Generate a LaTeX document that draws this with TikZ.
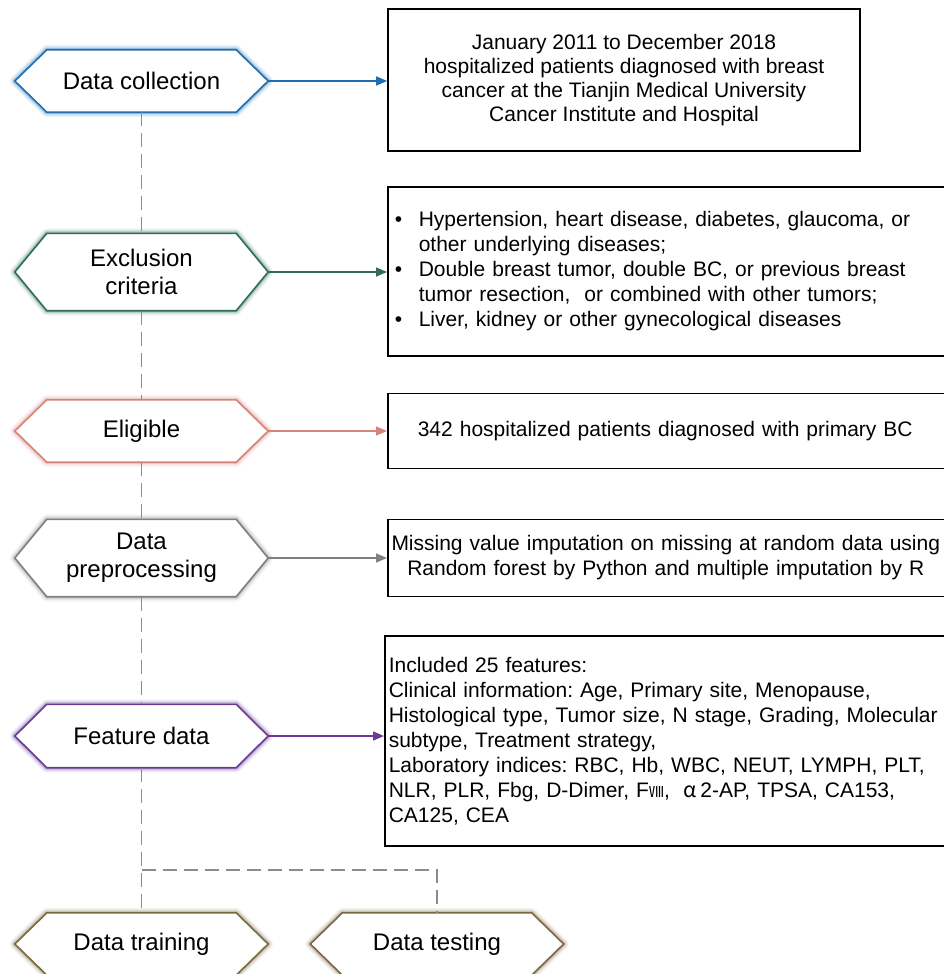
\documentclass[tikz,border=0pt]{standalone}
\usepackage{fontspec}
\setmainfont{Liberation Sans}
\newfontfamily\cjk{Noto Sans CJK SC}
\usetikzlibrary{arrows.meta,backgrounds}
\definecolor{cblue}{RGB}{31,111,176}
\definecolor{cgreen}{RGB}{46,110,88}
\definecolor{crose}{RGB}{212,132,122}
\definecolor{cgray}{RGB}{128,128,128}
\definecolor{cpurple}{RGB}{106,58,150}
\definecolor{colive}{RGB}{122,104,64}
\definecolor{cdash}{RGB}{140,140,140}
\newcommand{\hexa}[2]{%
  \foreach \w/\o in {10/0.08,7/0.14,4/0.25}{%
    \draw[#2, line width=\w pt, opacity=\o, line join=round]
      (#1.west) -- ([xshift=32pt]#1.north west) -- ([xshift=-32pt]#1.north east) -- (#1.east)
      -- ([xshift=-32pt]#1.south east) -- ([xshift=32pt]#1.south west) -- cycle;}
  \draw[#2, line width=1.6pt, fill=white, line join=miter]
      (#1.west) -- ([xshift=32pt]#1.north west) -- ([xshift=-32pt]#1.north east) -- (#1.east)
      -- ([xshift=-32pt]#1.south east) -- ([xshift=32pt]#1.south west) -- cycle;}
\tikzset{
  hexnode/.style={minimum width=253pt, minimum height=#1, inner sep=0pt, align=center,
    font=\fontsize{24}{28}\selectfont},
  box/.style={draw=black, line width=1.6pt, inner ysep=0pt,
    font=\fontsize{21}{25}\selectfont\frenchspacing},
  arr/.style={draw=#1, line width=1.5pt, -{Triangle[length=11pt,width=9pt]}},
  dashline/.style={draw=cdash, line width=1.5pt, dash pattern=on 14pt off 7pt},
}
\begin{document}
\frenchspacing
\begin{tikzpicture}[x=1pt,y=-1pt]
\path[use as bounding box] (0,0) rectangle (944,974);
\clip (0,0) rectangle (944,974);
% hexagon nodes
\node[hexnode=62pt] (dc) at (141.5,81) {Data collection};
\node[hexnode=77pt] (ex) at (141.5,272) {Exclusion\\criteria};
\node[hexnode=62pt] (el) at (141.5,431) {Eligible};
\node[hexnode=77pt] (dp) at (141.5,558) {Data\\preprocessing};
\node[hexnode=63pt] (fd) at (141.5,736) {Feature data};
\node[hexnode=62pt] (dtr) at (141.5,944) {Data training};
\node[hexnode=62pt] (dte) at (437,944) {Data testing};
\begin{scope}[on background layer]
  \hexa{dc}{cblue}
  \hexa{ex}{cgreen}
  \hexa{el}{crose}
  \hexa{dp}{cgray}
  \hexa{fd}{cpurple}
  \hexa{dtr}{colive}
  \hexa{dte}{colive}
\end{scope}
% boxes
\node[box, minimum width=472pt, minimum height=142pt, align=center,
  font=\fontsize{21}{24}\selectfont] (b1) at (624,80)
  {January 2011 to December 2018\\hospitalized patients diagnosed with breast\\cancer at the Tianjin Medical University\\Cancer Institute and Hospital};
\node[box, anchor=west, minimum width=600pt, minimum height=169pt, inner xsep=7pt,
  text width=586pt, align=left] (b2) at (387,271.5)
  {\makebox[24pt][l]{\textbullet}Hypertension, heart disease, diabetes, glaucoma, or\\
   \hspace*{24pt}other underlying diseases;\\
   \makebox[24pt][l]{\textbullet}Double breast tumor, double BC, or previous breast\\
   \hspace*{24pt}tumor resection,\ \ or combined with other tumors;\\
   \makebox[24pt][l]{\textbullet}Liver, kidney or other gynecological diseases};
\node[box, anchor=west, minimum width=600pt, minimum height=75pt, inner xsep=30pt,
  text width=540pt, align=left] (b3) at (387,431)
  {342 hospitalized patients diagnosed with primary BC};
\node[box, anchor=west, minimum width=600pt, minimum height=77pt, inner xsep=3pt,
  text width=594pt, align=left] (b4) at (387,558)
  {\makebox[550pt][c]{Missing value imputation on missing at random data using}\\
   \makebox[550pt][c]{Random forest by Python and multiple imputation by R}};
\node[box, anchor=west, minimum width=600pt, minimum height=210pt, inner xsep=4pt,
  text width=592pt, align=left] (b5) at (384,741)
  {Included 25 features:\\Clinical information: Age, Primary site, Menopause,\\Histological type, Tumor size, N stage, Grading, Molecular\\subtype, Treatment strategy,\\Laboratory indices: RBC, Hb, WBC, NEUT, LYMPH, PLT,\\NLR, PLR, Fbg, D-Dimer, F{\cjk\fontsize{15}{25}\selectfont Ⅷ}, \ {\cjk α}\,2-AP, TPSA, CA153,\\CA125, CEA};
% arrows
\draw[arr=cblue] (dc.east) -- (dc.east -| b1.west);
\draw[arr=cgreen] (ex.east) -- (ex.east -| b2.west);
\draw[arr=crose] (el.east) -- (el.east -| b3.west);
\draw[arr=cgray] (dp.east) -- (dp.east -| b4.west);
\draw[arr=cpurple] (fd.east) -- (fd.east -| b5.west);
% dashed spine
\coordinate (br) at (141.5,870);
\draw[dashline] (dc.south) -- (ex.north);
\draw[dashline] (ex.south) -- (el.north);
\draw[dashline] (el.south) -- (dp.north);
\draw[dashline] (dp.south) -- (fd.north);
\draw[dashline] (fd.south) -- (dtr.north);
\draw[dashline] (br) -| (dte.north);
\end{tikzpicture}
\end{document}
